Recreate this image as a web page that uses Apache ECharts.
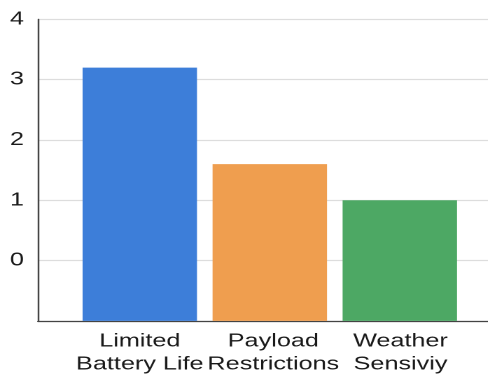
<!DOCTYPE html>
<html>
<head>
<meta charset="utf-8">
<script src="https://cdn.jsdelivr.net/npm/echarts@6/dist/echarts.min.js"></script>
<style>
  html, body { margin: 0; padding: 0; background: #ffffff; overflow: hidden; }
  #wrap { width: 488px; height: 380px; overflow: hidden; }
  /* chart is laid out narrow and widened horizontally */
  #chart { width: 348.57px; height: 380px; transform: scaleX(1.4); transform-origin: 0 0; }
</style>
</head>
<body>
<div id="wrap"><div id="chart"></div></div>
<script>
// Problem categories and their scores
const categories = ['Limited\nBattery Life', 'Payload\nRestrictions', 'Weather\nSensiviy'];
const scores = [3.2, 1.6, 1.0];
const barColors = ['#3d7ed9', '#ef9e4f', '#4da864'];
const yTicks = [-1, 0, 1, 2, 3, 4];

const yMin = yTicks[0];
const yMax = yTicks[yTicks.length - 1];
const barFill = 0.88; // share of each category band covered by its bar
const labelNudge = [0, 5, 1]; // extra left padding per category label, keeps neighbours apart
const font = "'Liberation Sans', Arial, Helvetica, sans-serif";
const plotTop = 19.4;
const plotBottom = 59.1;

const chart = echarts.init(document.getElementById('chart'), null, { renderer: 'canvas', devicePixelRatio: 2 });

chart.setOption({
  animation: false,
  backgroundColor: '#ffffff',
  grid: [
    // frame: value axis, gridlines and the baseline
    { left: 27.1, right: 0, top: plotTop, bottom: plotBottom },
    // category bands holding the bars
    { left: 53.4, right: 17.0, top: plotTop, bottom: plotBottom }
  ],
  xAxis: [
    {
      gridIndex: 0,
      type: 'value',
      min: 0,
      max: 1,
      splitLine: { show: false },
      axisLine: { show: true, onZero: false, lineStyle: { color: '#444444', width: 1.2 } },
      axisTick: { show: false },
      axisLabel: { show: false }
    },
    {
      gridIndex: 1,
      type: 'category',
      data: categories.map((c, i) => ({ value: c, textStyle: { padding: [0, 0, 0, labelNudge[i]] } })),
      axisLine: { show: false },
      axisTick: { show: false },
      axisLabel: {
        interval: 0,
        color: '#1a1a1a',
        fontFamily: font,
        fontSize: 18,
        lineHeight: 23,
        margin: 9
      }
    }
  ],
  yAxis: [
    {
      gridIndex: 0,
      type: 'value',
      min: yMin,
      max: yMax,
      interval: 1,
      axisLine: { show: true, lineStyle: { color: '#444444', width: 1.2 } },
      axisTick: { show: false },
      splitLine: { show: true, lineStyle: { color: '#dddddd', width: 1.2 } },
      axisLabel: {
        formatter: v => (v < 0 ? '' : String(v)),
        color: '#1a1a1a',
        fontFamily: font,
        fontSize: 18,
        margin: 10
      }
    },
    {
      gridIndex: 1,
      type: 'value',
      min: yMin,
      max: yMax,
      show: false
    }
  ],
  series: [{
    type: 'custom',
    xAxisIndex: 1,
    yAxisIndex: 1,
    data: scores.map((v, i) => [i, v]),
    encode: { x: 0, y: 1 },
    renderItem: (params, api) => {
      const idx = api.value(0);
      const top = api.coord([idx, api.value(1)]);
      const base = api.coord([idx, yMin]);
      const w = api.size([1, 0])[0] * barFill;
      return {
        type: 'rect',
        shape: { x: top[0] - w / 2, y: top[1], width: w, height: base[1] - top[1] },
        style: { fill: barColors[params.dataIndex] }
      };
    }
  }]
});
</script>
</body>
</html>
